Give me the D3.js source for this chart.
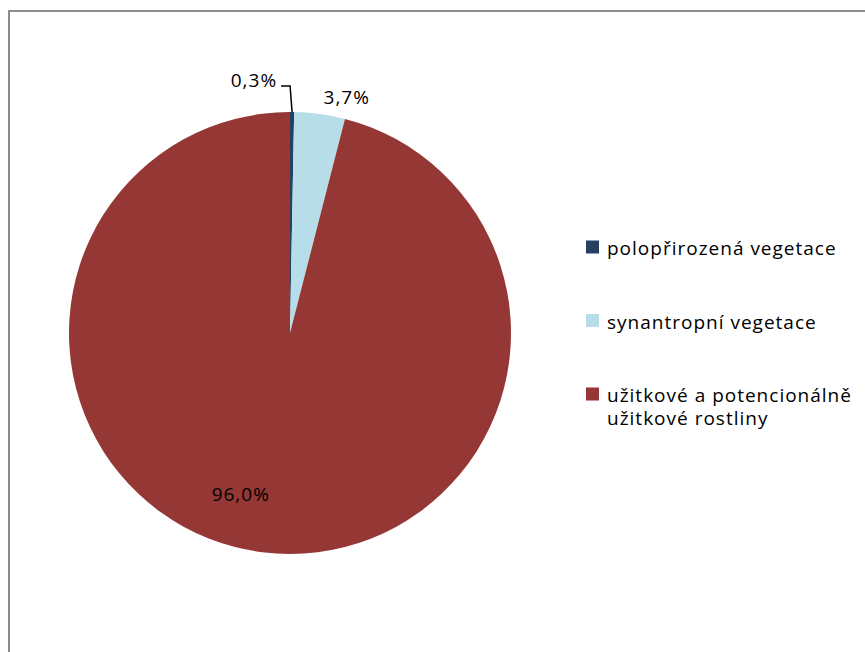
<!DOCTYPE html>
<html><head><meta charset="utf-8">
<script src="https://cdn.jsdelivr.net/npm/d3@7"></script>
<style>body{margin:0;background:#fff}svg{display:block}text{font-family:"Open Sans",Lato,sans-serif;fill:#000;letter-spacing:1px}</style>
</head><body>
<svg id="c" width="865" height="652"></svg>
<script>
const categories = ["polopřirozená vegetace", "synantropní vegetace", "užitkové a potencionálně užitkové rostliny"];
const values = [0.3, 3.7, 96.0];
const valueLabels = ["0,3%", "3,7%", "96,0%"];
const colors = ["#254061", "#B7DEE8", "#953735"];
const legendLines = [["polopřirozená vegetace"], ["synantropní vegetace"], ["užitkové a potencionálně", "užitkové rostliny"]];

const svg = d3.select("#c");
// frame
svg.append("path").attr("d", "M9,660 V11 H866").attr("fill", "none").attr("stroke", "#8c8c8c").attr("stroke-width", 2);

const cx = 290, cy = 333, R = 221;
const g = svg.append("g").attr("transform", `translate(${cx},${cy})`);
const pie = d3.pie().sort(null).value(d => d)(values);
const arc = d3.arc().innerRadius(0).outerRadius(R);
g.selectAll("path.s").data(pie).join("path").attr("class", "s")
  .attr("d", arc).attr("fill", (d, i) => colors[i]);

function polar(a, r) { return [r * Math.sin(a), -r * Math.cos(a)]; }
const fs = 19;
// label 0: leader line
{
  const d = pie[0];
  const m = (d.startAngle + d.endAngle) / 2;
  const p0 = polar(m, R);
  const p1 = [p0[0] - 2, -R - 26];
  const p2 = [p1[0] - 9, p1[1]];
  g.append("path").attr("d", d3.line()([p0, p1, p2])).attr("fill", "none").attr("stroke", "#000").attr("stroke-width", 1.5);
  g.append("text").attr("x", p2[0] - 4).attr("y", p2[1] + 1).attr("text-anchor", "end").attr("font-size", fs).text(valueLabels[0]);
}
// label 1: outside end
{
  const d = pie[1];
  const m = (d.startAngle + d.endAngle) / 2;
  const p = polar(m + 0.1, R + 14);
  g.append("text").attr("x", p[0] + 2).attr("y", p[1]).attr("text-anchor", "middle").attr("font-size", fs).text(valueLabels[1]);
}
// label 2: inside
{
  const d = pie[2];
  const m = (d.startAngle + d.endAngle) / 2;
  const p = polar(m + 0.17, R * 0.765);
  g.append("text").attr("x", p[0]).attr("y", p[1]).attr("dy", "0.35em").attr("text-anchor", "middle").attr("font-size", fs).text(valueLabels[2]);
}

// legend
const ly = d3.scalePoint().domain(categories).range([247, 394]);
const lg = svg.append("g");
categories.forEach((c, i) => {
  const y = ly(c);
  lg.append("rect").attr("x", 586).attr("y", y - 6.5).attr("width", 13).attr("height", 13).attr("fill", colors[i]);
  legendLines[i].forEach((l, j) => lg.append("text").attr("x", 607).attr("y", y + 8 + j * 23).attr("font-size", fs).text(l));
});
</script>
</body></html>
